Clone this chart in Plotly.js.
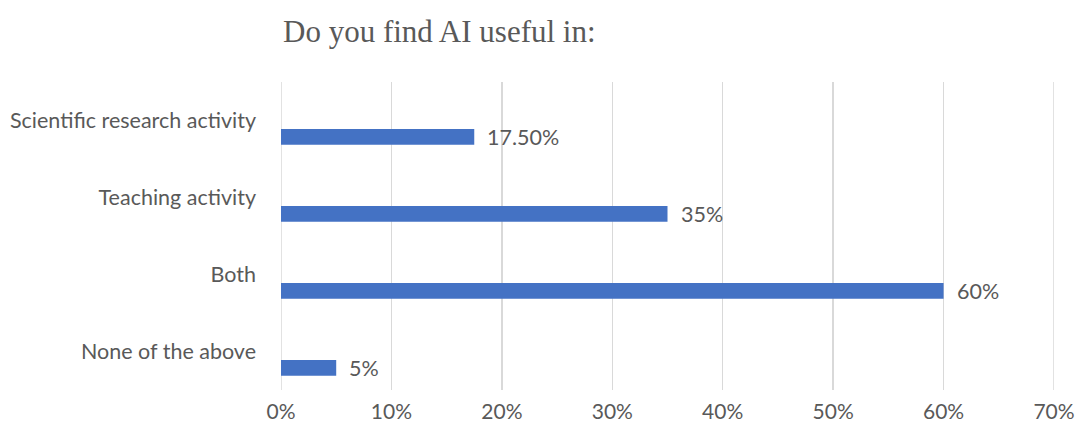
<!DOCTYPE html>
<html>
<head>
<meta charset="utf-8">
<script src="https://cdn.plot.ly/plotly-3.0.1.min.js"></script>
<style>html,body{margin:0;padding:0;background:#fff;}#chart{width:1077px;height:428px;}</style>
</head>
<body>
<div id="chart"></div>
<script>
const categories = ["Scientific research activity", "Teaching activity", "Both", "None of the above"];
const values = [17.5, 35, 60, 5];
const valueLabels = ["17.50%", "35%", "60%", "5%"];
const xTicks = [0, 10, 20, 30, 40, 50, 60, 70];
const xTickLabels = ["0%", "10%", "20%", "30%", "40%", "50%", "60%", "70%"];

const textColor = "#595959";
const gridColor = "#d9d9d9";
const font = "Lato, 'Open Sans', sans-serif";
const xMin = xTicks[0], xMax = xTicks[xTicks.length - 1];

const trace = {
  type: "bar",
  orientation: "h",
  x: values,
  y: categories,
  width: 0.207,
  offset: 0.109,
  marker: { color: "#4472C4", line: { width: 0 } },
  hoverinfo: "skip",
  cliponaxis: false
};

const annotations = categories.map((c, i) => ({
  x: values[i], y: c, xref: "x", yref: "y",
  text: valueLabels[i], showarrow: false,
  xanchor: "left", yanchor: "middle",
  xshift: 11, yshift: -16.5,
  font: { family: font, size: 21.5, color: textColor }
}));

// edge gridlines (Plotly omits grid lines lying on the plot-area border)
const shapes = [xMin, xMax].map(v => ({
  type: "line", xref: "x", yref: "paper", x0: v, x1: v, y0: 0, y1: 1,
  line: { color: gridColor, width: 1.5 }, layer: "below"
}));

const layout = {
  width: 1077, height: 428,
  margin: { l: 281, r: 23, t: 82, b: 38 },
  paper_bgcolor: "#ffffff", plot_bgcolor: "#ffffff",
  showlegend: false,
  title: {
    text: "Do you find AI useful in:",
    font: { family: "'Liberation Serif', 'Times New Roman', serif", size: 31, color: textColor },
    xref: "container", yref: "container",
    x: 283 / 1077, xanchor: "left",
    y: 1 - 31 / 428, yanchor: "middle"
  },
  xaxis: {
    range: [xMin, xMax],
    tickvals: xTicks, ticktext: xTickLabels,
    showgrid: true, gridcolor: gridColor, gridwidth: 1.5,
    zeroline: false, showline: false, ticks: "",
    ticklabelstandoff: 7,
    tickfont: { family: font, size: 21, color: textColor },
    fixedrange: true
  },
  yaxis: {
    type: "category",
    autorange: "reversed",
    showgrid: false, zeroline: false, showline: false, ticks: "",
    ticklabelstandoff: 24,
    tickfont: { family: font, size: 21.5, color: textColor },
    fixedrange: true
  },
  shapes: shapes,
  annotations: annotations
};

Plotly.newPlot("chart", [trace], layout, { displayModeBar: false, staticPlot: true });
</script>
</body>
</html>
